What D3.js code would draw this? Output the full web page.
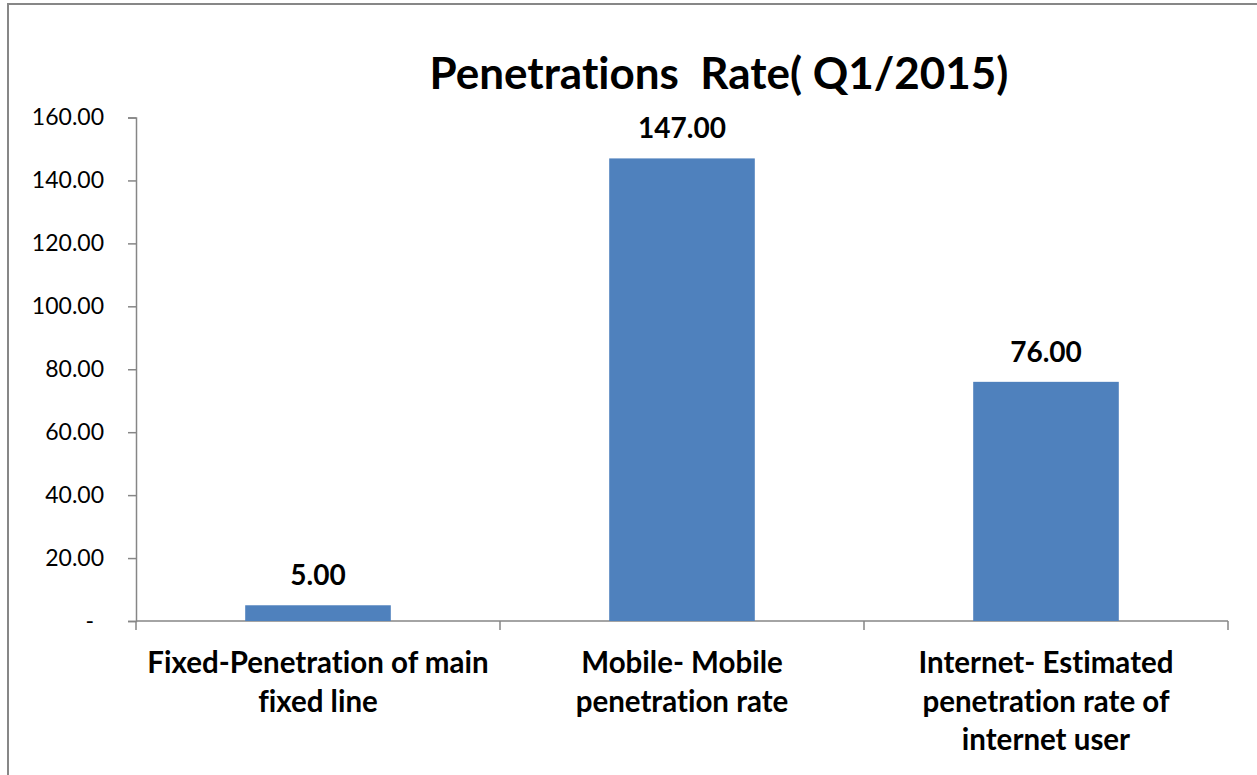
<!DOCTYPE html>
<html>
<head>
<meta charset="utf-8">
<script src="https://cdn.jsdelivr.net/npm/d3@7"></script>
<style>
  html, body { margin: 0; padding: 0; background: #fff; }
  svg { display: block; font-family: Lato, "Open Sans", sans-serif; font-variant-ligatures: none; }
</style>
</head>
<body>
<div id="chart"></div>
<script>
// chart data
const title = "Penetrations  Rate( Q1/2015)";
const categories = [
  ["Fixed-Penetration of main", "fixed line"],
  ["Mobile- Mobile", "penetration rate"],
  ["Internet- Estimated", "penetration rate of", "internet user"]
];
const values = [5, 147, 76];
const yTicks = [0, 20, 40, 60, 80, 100, 120, 140, 160];

const W = 1257, H = 775;
const margin = {top: 117.5, right: 29, bottom: 154, left: 136};

const svg = d3.select("#chart").append("svg")
  .attr("width", W)
  .attr("height", H);

// outer chart frame (cut off at right and bottom like the original)
svg.append("rect")
  .attr("x", 8).attr("y", 4)
  .attr("width", W + 20).attr("height", H + 20)
  .attr("fill", "none")
  .attr("stroke", "#878787")
  .attr("stroke-width", 2);

svg.append("text")
  .attr("x", 719).attr("y", 89)
  .attr("text-anchor", "middle")
  .attr("xml:space", "preserve")
  .style("white-space", "pre")
  .style("font-size", "44px")
  .style("font-weight", "bold")
  .text(title);

const keys = categories.map((c, i) => "c" + i);

const x = d3.scaleBand()
  .domain(keys)
  .range([margin.left, W - margin.right])
  .padding(0);

const y = d3.scaleLinear()
  .domain([0, 160])
  .range([H - margin.bottom, margin.top]);

// y axis
const yAxis = svg.append("g")
  .attr("transform", `translate(${margin.left},0)`)
  .call(d3.axisLeft(y)
    .tickValues(yTicks)
    .tickSize(8)
    .tickPadding(24)
    .tickFormat(d => d === 0 ? "-" : d.toFixed(2)));
yAxis.selectAll("path, line").attr("stroke", "#868686").attr("stroke-width", 1.5);
yAxis.selectAll("text")
  .style("font-size", "23px")
  .style("font-family", "Lato, sans-serif")
  .attr("fill", "#000")
  .attr("dx", d => d === 0 ? -10 : 0);

// x axis line + boundary ticks
const x0 = y(0);
const xa = svg.append("g").attr("stroke", "#868686").attr("stroke-width", 1.5);
xa.append("line")
  .attr("x1", margin.left).attr("x2", W - margin.right)
  .attr("y1", x0).attr("y2", x0);
const bounds = keys.map(k => x(k)).concat([x(keys[keys.length - 1]) + x.bandwidth()]);
xa.selectAll("line.tk").data(bounds).enter().append("line")
  .attr("class", "tk")
  .attr("x1", d => d).attr("x2", d => d)
  .attr("y1", x0).attr("y2", x0 + 9);

// bars
const barW = x.bandwidth() * 0.4;
svg.selectAll("rect.bar")
  .data(values)
  .enter().append("rect")
  .attr("class", "bar")
  .attr("x", (d, i) => x(keys[i]) + (x.bandwidth() - barW) / 2)
  .attr("y", d => y(d))
  .attr("width", barW)
  .attr("height", d => y(0) - y(d))
  .attr("fill", "#4F81BD");

// value labels
svg.selectAll("text.val")
  .data(values)
  .enter().append("text")
  .attr("class", "val")
  .attr("x", (d, i) => x(keys[i]) + x.bandwidth() / 2)
  .attr("y", d => y(d) - 20)
  .attr("text-anchor", "middle")
  .style("font-size", "28px")
  .style("font-weight", "bold")
  .text(d => d.toFixed(2));

// category labels
const cat = svg.selectAll("text.cat")
  .data(categories)
  .enter().append("text")
  .attr("class", "cat")
  .attr("text-anchor", "middle")
  .style("font-size", "29.5px")
  .style("font-weight", "bold");
cat.each(function(lines, i) {
  const t = d3.select(this);
  lines.forEach((ln, j) => {
    t.append("tspan")
      .attr("x", x(keys[i]) + x.bandwidth() / 2)
      .attr("y", x0 + 52 + j * 38.5)
      .text(ln);
  });
});
</script>
</body>
</html>
